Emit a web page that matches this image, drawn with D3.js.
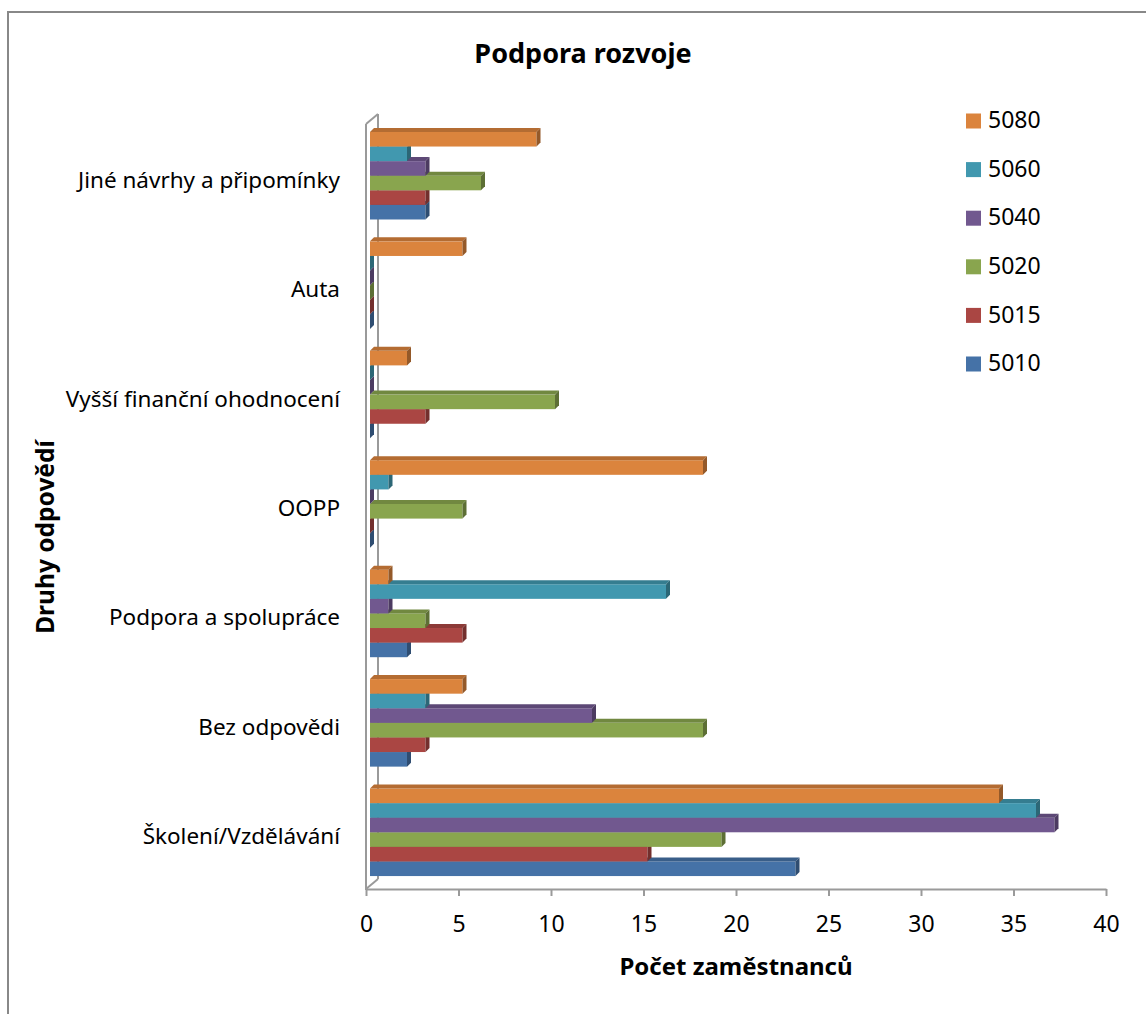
<!DOCTYPE html>
<html>
<head>
<meta charset="utf-8">
<script src="https://cdn.jsdelivr.net/npm/d3@7"></script>
<style>
  body { margin: 0; background: #fff; }
  text { font-family: "Noto Sans", "DejaVu Sans", sans-serif; fill: #000; }
</style>
</head>
<body>
<script>
// categories top to bottom, as shown
var categories = ["Jiné návrhy a připomínky", "Auta", "Vyšší finanční ohodnocení", "OOPP",
                  "Podpora a spolupráce", "Bez odpovědi", "Školení/Vzdělávání"];
// series, bottom of each group first
var series = ["5010", "5015", "5020", "5040", "5060", "5080"];
var colors = ["#4572A7", "#AA4643", "#89A54E", "#71588F", "#4198AF", "#DB843D"];

// values per series, same order as categories
var v5010 = [3, 0, 0, 0, 2, 2, 23];
var v5015 = [3, 0, 3, 0, 5, 3, 15];
var v5020 = [6, 0, 10, 5, 3, 18, 19];
var v5040 = [3, 0, 0, 0, 1, 12, 37];
var v5060 = [2, 0, 0, 1, 16, 3, 36];
var v5080 = [9, 5, 2, 18, 1, 5, 34];
var values = [v5010, v5015, v5020, v5040, v5060, v5080];

var xTicks = [0, 5, 10, 15, 20, 25, 30, 35, 40];

var w = 1146, h = 1014;
var svg = d3.select("body").append("svg").attr("width", w).attr("height", h);

// outer chart border
svg.append("rect")
  .attr("x", 8).attr("y", 12).attr("width", 1150).attr("height", 1020)
  .attr("fill", "none").attr("stroke", "#888").attr("stroke-width", 2);

var x = d3.scaleLinear().domain([0, 40]).range([366, 1106]);
var y = d3.scaleBand().domain(categories).range([121, 887]).paddingInner(0.2).paddingOuter(0.1);
var ys = d3.scaleBand().domain(series.slice().reverse()).range([0, y.bandwidth()]);

var wall = 12, wallUp = 10;   // depth of back wall
var dep = 4;                  // depth of each bar
var off = 4;                  // bars sit half way into the depth

// walls
var g = svg.append("g").attr("stroke", "#9a9a9a").attr("stroke-width", 2).attr("fill", "none");
g.append("line").attr("x1", x(0) + wall).attr("x2", x(0) + wall).attr("y1", 114).attr("y2", 889 - wallUp);
g.append("line").attr("x1", x(0)).attr("x2", x(0) + wall).attr("y1", 124).attr("y2", 114);
g.append("line").attr("x1", x(0)).attr("x2", x(0) + wall).attr("y1", 889).attr("y2", 889 - wallUp);
g.append("line").attr("x1", x(0)).attr("x2", x(0)).attr("y1", 124).attr("y2", 890);

// x axis
var xAxis = d3.axisBottom(x).tickValues(xTicks).tickSize(7).tickSizeOuter(0).tickPadding(20);
var ax = svg.append("g").attr("transform", "translate(0,889)").call(xAxis);
ax.select(".domain").attr("stroke", "#9a9a9a").attr("stroke-width", 2);
ax.selectAll(".tick line").attr("stroke", "#9a9a9a").attr("stroke-width", 2);
ax.selectAll(".tick text").attr("font-size", 23).style("font-family", "'Noto Sans', sans-serif");

// bars, drawn bottom series first so upper bars cover lower top faces
series.forEach(function(s, si) {
  var gs = svg.append("g").attr("class", "s" + s);
  var base = colors[si];
  var topC = d3.color(base).darker(0.55).toString();
  var sideC = d3.color(base).darker(1.1).toString();
  var rows = categories.map(function(c, ci) { return { c: c, v: values[si][ci] }; });

  gs.selectAll("g.bar").data(rows).enter().append("g").attr("class", "bar")
    .each(function(d) {
      var x0 = x(0) + off, x1 = x(d.v) + off;
      var y0 = y(d.c) + ys(s), bh = ys.bandwidth();
      var el = d3.select(this);
      el.append("rect").attr("x", x0).attr("y", y0).attr("width", x1 - x0).attr("height", bh)
        .attr("fill", base);
      el.append("path")
        .attr("d", "M" + x0 + "," + y0 + "L" + x1 + "," + y0 + "L" + (x1 + dep) + "," + (y0 - dep) +
                   "L" + (x0 + dep) + "," + (y0 - dep) + "Z")
        .attr("fill", topC);
      el.append("path")
        .attr("d", "M" + x1 + "," + y0 + "L" + (x1 + dep) + "," + (y0 - dep) + "L" + (x1 + dep) + "," +
                   (y0 + bh - dep) + "L" + x1 + "," + (y0 + bh) + "Z")
        .attr("fill", sideC);
    });
});

// category labels
svg.selectAll("text.cat").data(categories).enter().append("text")
  .attr("class", "cat")
  .attr("x", 340)
  .attr("y", function(d) { return y(d) + y.bandwidth() / 2 + 6; })
  .attr("text-anchor", "end")
  .attr("dominant-baseline", "middle")
  .attr("font-size", 22.5)
  .text(function(d) { return d; });

// titles
svg.append("text").attr("x", 583).attr("y", 56).attr("text-anchor", "middle")
  .attr("dominant-baseline", "middle").attr("font-size", 27).attr("font-weight", "bold")
  .text("Podpora rozvoje");

svg.append("text").attr("x", 736).attr("y", 968).attr("text-anchor", "middle")
  .attr("dominant-baseline", "middle").attr("font-size", 24).attr("font-weight", "bold")
  .text("Počet zaměstnanců");

svg.append("text").attr("transform", "translate(47,537) rotate(-90)").attr("text-anchor", "middle")
  .attr("dominant-baseline", "middle").attr("font-size", 24.5).attr("font-weight", "bold")
  .text("Druhy odpovědí");

// legend, top entry is the last series
var leg = series.slice().reverse();
var lg = svg.selectAll("g.leg").data(leg).enter().append("g").attr("class", "leg")
  .attr("transform", function(d, i) { return "translate(966," + (121 + i * 48.6) + ")"; });
lg.append("rect").attr("x", 0).attr("y", -7.5).attr("width", 15).attr("height", 15)
  .attr("fill", function(d) { return colors[series.indexOf(d)]; });
lg.append("text").attr("x", 22).attr("y", 1).attr("dominant-baseline", "middle")
  .attr("font-size", 23).text(function(d) { return d; });
</script>
</body>
</html>
